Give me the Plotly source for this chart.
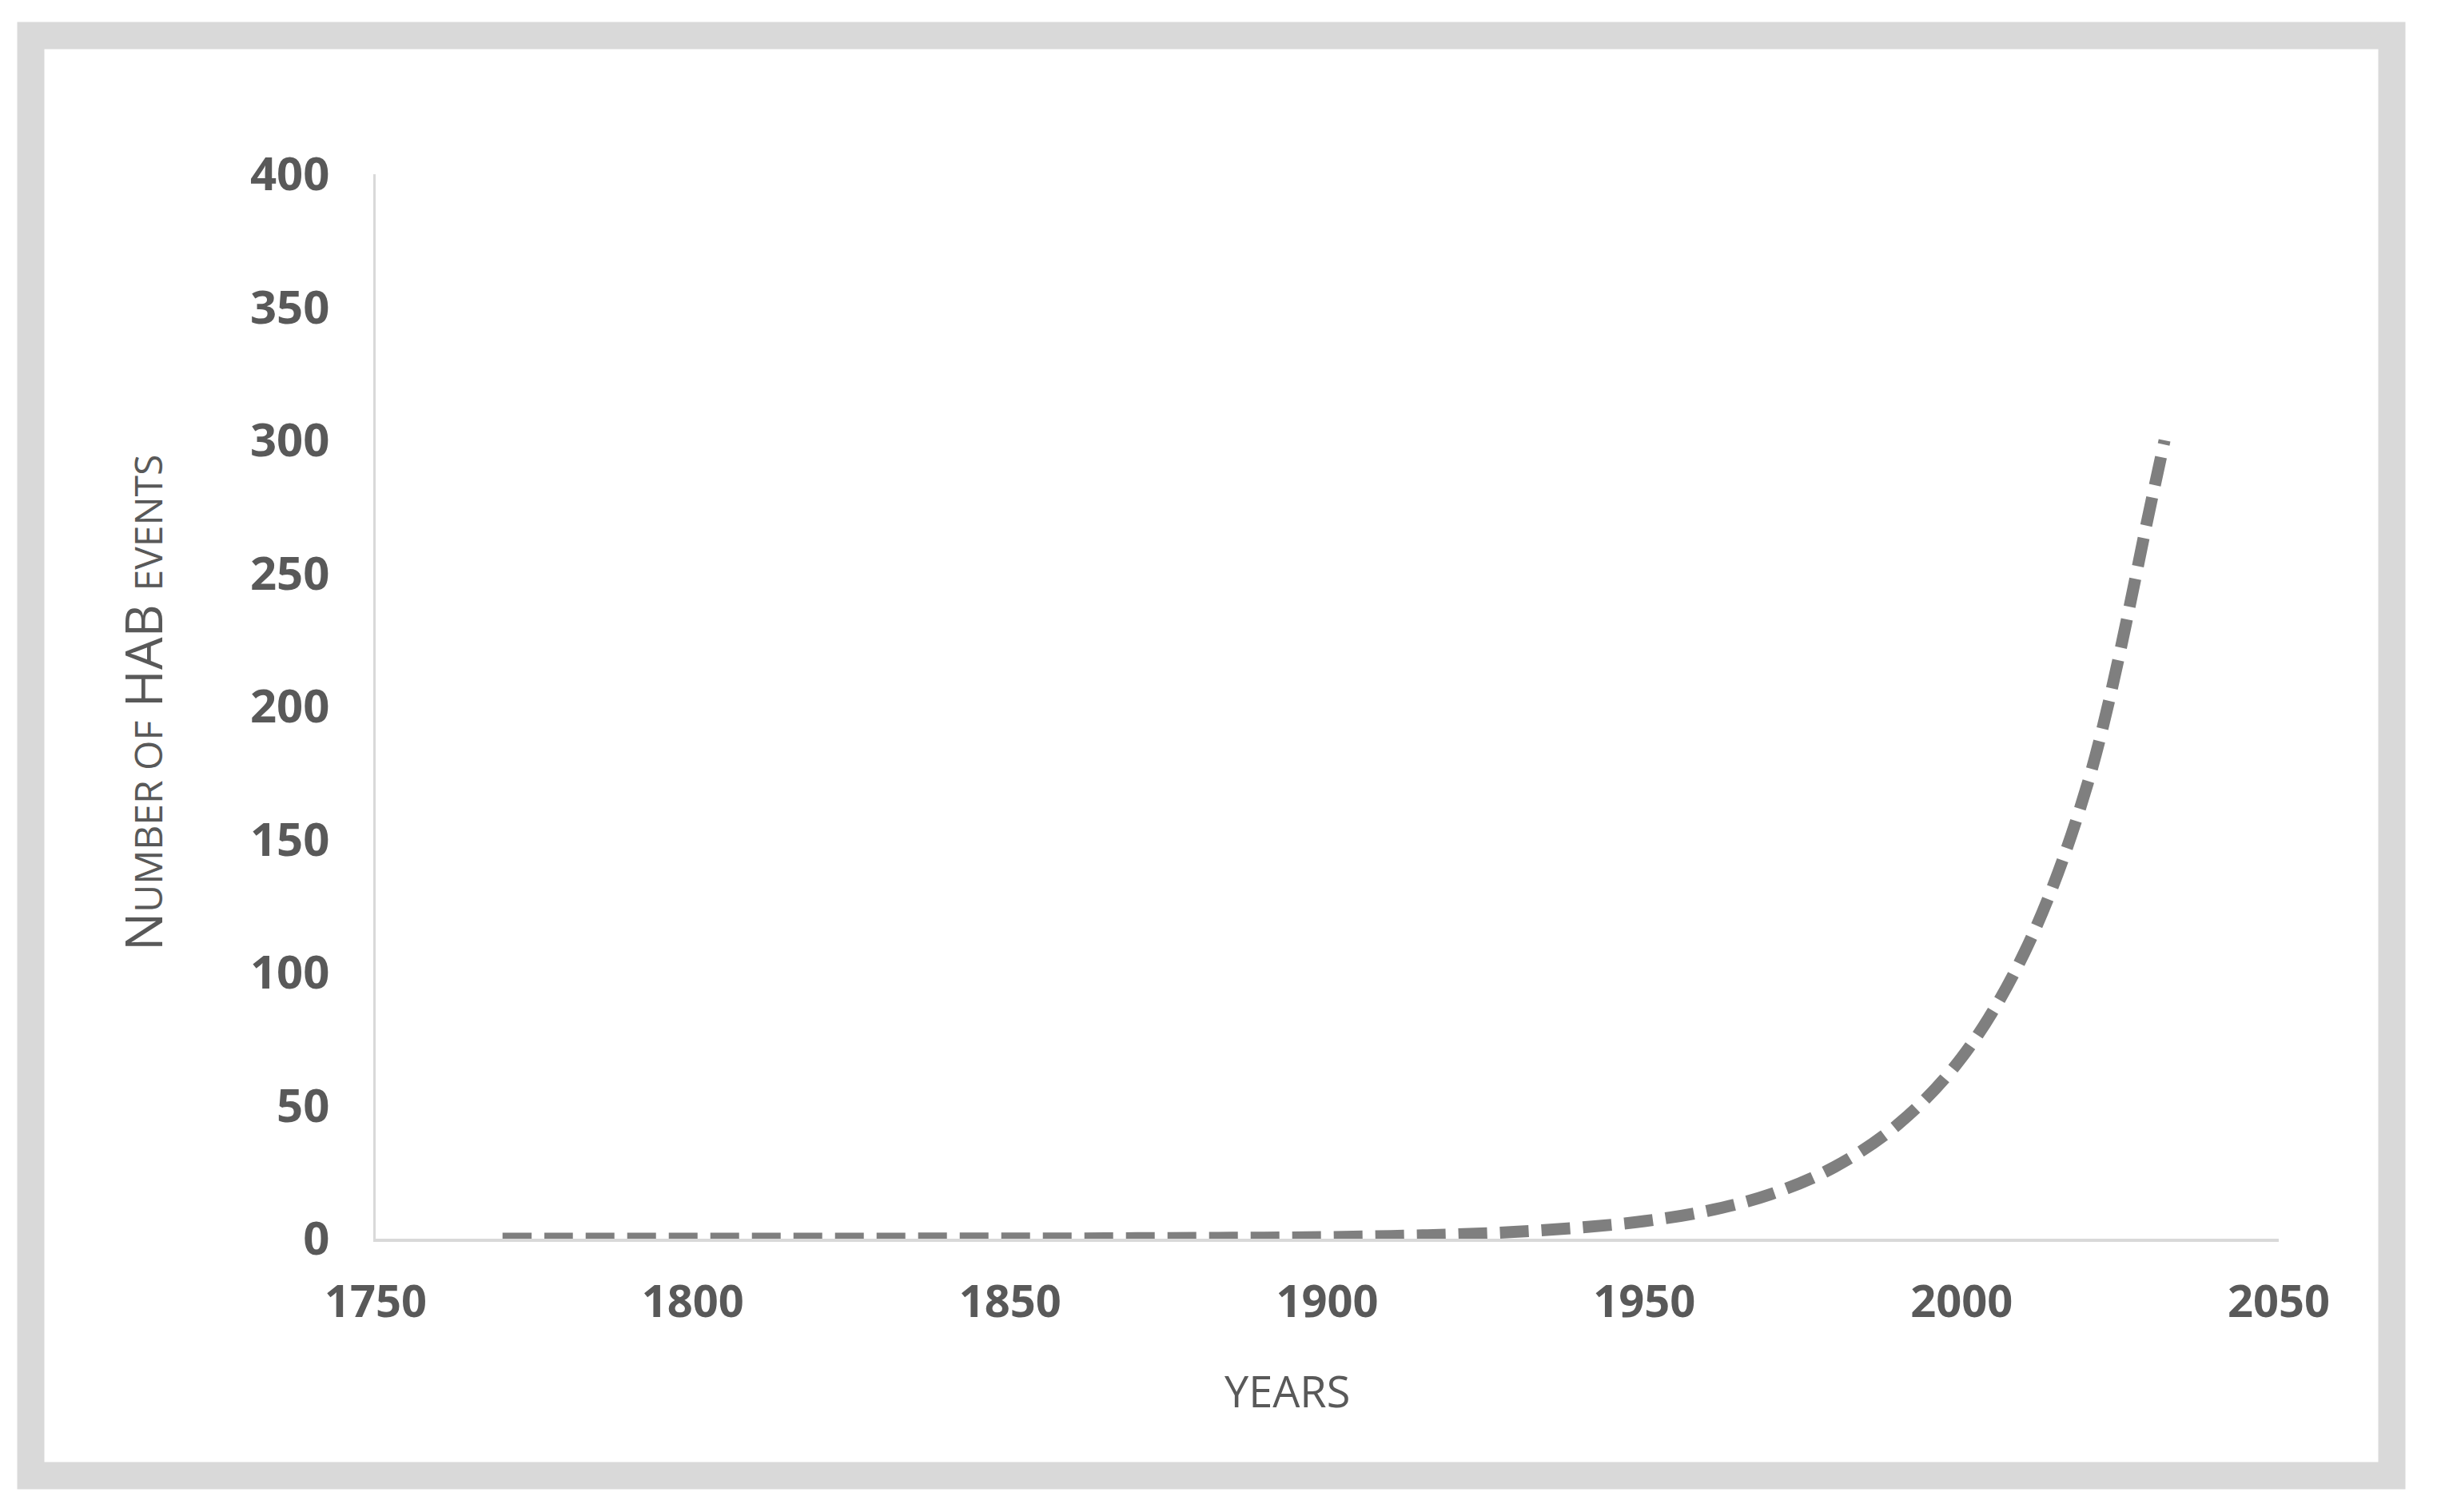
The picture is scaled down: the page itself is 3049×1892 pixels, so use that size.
import plotly.graph_objects as go

# ---- data ----
years = [1770, 1780, 1790, 1800, 1810, 1820, 1830, 1840, 1850, 1860, 1870, 1880,
         1890, 1900, 1910, 1920, 1930, 1940, 1950, 1960, 1970, 1980, 1990, 2000,
         2010, 2020, 2030, 2032]
hab_events = [0.0, 0.0, 0.0, 0.0, 0.0, 0.0, 0.0, 0.1, 0.1, 0.1, 0.2, 0.3,
              0.4, 0.6, 1.0, 1.6, 2.6, 4.2, 6.6, 10.5, 16.8, 27, 43, 68,
              108, 172, 278, 300]
y_ticks = [0, 50, 100, 150, 200, 250, 300, 350, 400]
x_ticks = [1750, 1800, 1850, 1900, 1950, 2000, 2050]

# ---- layout geometry (screen pixels; page body has an 8px margin) ----
OFF = 8
SW, SH = 3049, 1892
W, H = SW - 2 * OFF, SH - 2 * OFF
PL, PR, PT, PB = 470, 2851, 218, 1550          # plot area in screen px
ML, MT = PL - OFF, PT - OFF
MR, MB = W - (PR - OFF), H - (PB - OFF)
PW, PH = PR - PL, PB - PT


def px_x(x):
    return (x - PL) / PW


def px_y(y):
    return (PB - y) / PH


TXT = "#595959"

fig = go.Figure()
fig.add_trace(go.Scatter(
    x=years, y=hab_events, mode="lines",
    line=dict(color="#7f7f7f", width=15, dash="36px,16px", shape="spline"),
    hoverinfo="skip", showlegend=False,
))

# outer light-grey frame
fig.add_shape(type="rect", xref="paper", yref="paper",
              x0=px_x(38.5), x1=px_x(2992.5), y0=px_y(1846.5), y1=px_y(44.5),
              line=dict(color="#d9d9d9", width=34), layer="below")

fig.update_layout(
    width=W, height=H,
    margin=dict(l=ML, r=MR, t=MT, b=MB, pad=0),
    paper_bgcolor="white", plot_bgcolor="white",
    showlegend=False,
    xaxis=dict(
        range=[1750, 2050], tickvals=x_ticks, ticktext=[str(v) for v in x_ticks],
        showgrid=False, zeroline=False, showline=True, linecolor="#d9d9d9", linewidth=4,
        ticks="", ticklabelstandoff=27,
        tickfont=dict(family="Open Sans, sans-serif", size=56, color=TXT, weight=700),
    ),
    yaxis=dict(
        range=[0, 400], tickvals=y_ticks, ticktext=[str(v) for v in y_ticks],
        showgrid=False, zeroline=False, showline=True, linecolor="#d9d9d9", linewidth=3,
        ticks="", ticklabelstandoff=43,
        tickfont=dict(family="Open Sans, sans-serif", size=58, color=TXT, weight=700),
    ),
    annotations=[
        dict(xref="paper", yref="paper", x=px_x(1610), y=px_y(1740),
             text="YEARS", showarrow=False, xanchor="center", yanchor="middle",
             font=dict(family="Open Sans, sans-serif", size=54, color=TXT)),
        dict(xref="paper", yref="paper", x=px_x(179), y=px_y(880),
             text=("N<span style='font-size:48px'>UMBER OF</span> HAB "
                   "<span style='font-size:48px'>EVENTS</span>"),
             textangle=-90, showarrow=False, xanchor="center", yanchor="middle",
             font=dict(family="Open Sans, sans-serif", size=64, color=TXT)),
    ],
)

fig.write_html("out.html")
